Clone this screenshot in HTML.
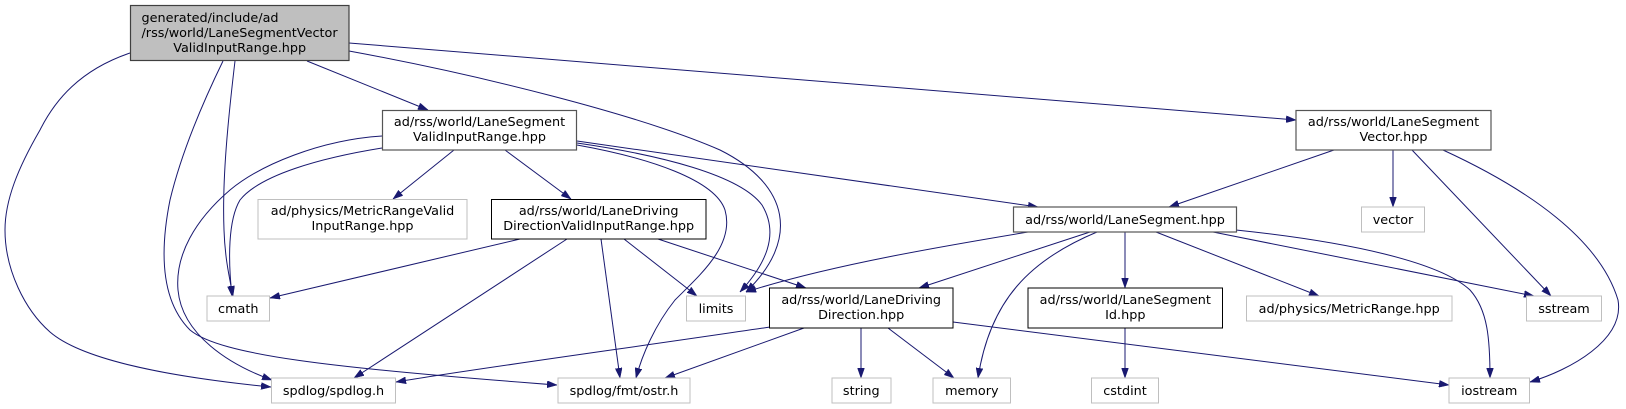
<!DOCTYPE html>
<html><head><meta charset="utf-8"><style>
html,body{margin:0;padding:0;background:#fff;}
svg{display:block;}
text{font-family:"DejaVu Sans","Liberation Sans",sans-serif;font-size:12.8px;fill:#000;}
.e{fill:none;stroke:#191970;stroke-width:1;}
.n{fill:#fff;stroke:#000;stroke-width:1;}
.g{fill:#fff;stroke:#555;stroke-width:1.2;}
.x{fill:#fff;stroke:#bfbfbf;stroke-width:1;}
</style></head><body>
<svg width="1626" height="409" viewBox="0 0 1626 409" xmlns="http://www.w3.org/2000/svg">
<defs>
<marker id="a" markerUnits="userSpaceOnUse" viewBox="0 0 10 7" markerWidth="10" markerHeight="7" refX="10" refY="3.5" orient="auto">
<path d="M0,0 L10,3.5 L0,7 z" fill="#191970" stroke="#191970" stroke-width="0.5"/>
</marker>
</defs>
<g marker-end="url(#a)">
<!-- root edges -->
<path class="e" d="M307,61 L428,110"/>
<path class="e" d="M349,43 L1296,120"/>
<path class="e" d="M130,53 C80,70 55,100 40,130 C18,168 5,200 5,230 C5,270 25,310 50,332 C80,358 160,376 271,387"/>
<path class="e" d="M223,61 C205,98 182,150 170,200 C160,250 160,300 190,330 C220,355 330,368 557,385"/>
<path class="e" d="M235,61 C228,120 222,180 224,230 C225,260 230,280 233,296"/>
<path class="e" d="M349,51 C480,75 640,115 720,150 C790,185 800,240 746,292"/>
<!-- LSVIR edges -->
<path class="e" d="M454,150 L393,199"/>
<path class="e" d="M505,150 L571,199"/>
<path class="e" d="M577,141 L1038,207"/>
<path class="e" d="M382,148 C320,158 260,175 240,200 C228,220 228,260 232,296"/>
<path class="e" d="M382,136 C320,140 260,165 230,190 C195,220 175,255 178,290 C182,335 230,365 272,380"/>
<path class="e" d="M577,143 C660,155 740,175 762,205 C780,235 765,265 740,292"/>
<path class="e" d="M577,145 C650,158 715,180 725,210 C735,245 700,275 675,300 C655,325 642,355 636,378"/>
<!-- LDDVIR edges -->
<path class="e" d="M520,239 L270,298"/>
<path class="e" d="M567,239 L354,378"/>
<path class="e" d="M601,239 L620,378"/>
<path class="e" d="M624,239 L697,296"/>
<path class="e" d="M658,239 L806,288"/>
<!-- LaneSegment edges -->
<path class="e" d="M1028,232 C950,245 830,265 746,292"/>
<path class="e" d="M1090,232 L919,288"/>
<path class="e" d="M1097,232 C1030,260 990,300 978,378"/>
<path class="e" d="M1125,232 L1125,288"/>
<path class="e" d="M1156,232 L1319,296"/>
<path class="e" d="M1213,232 L1534,296"/>
<path class="e" d="M1236,230 C1350,242 1440,262 1470,290 C1488,310 1490,340 1490,378"/>
<!-- LSId -->
<path class="e" d="M1125,328 L1125,378"/>
<!-- LDD edges -->
<path class="e" d="M861,328 L861,378"/>
<path class="e" d="M888,328 L954,378"/>
<path class="e" d="M804,328 L665,378"/>
<path class="e" d="M770,327 C650,345 480,368 396,382"/>
<path class="e" d="M953,322 L1449,385"/>
<!-- LSV edges -->
<path class="e" d="M1334,150 L1169,207"/>
<path class="e" d="M1393,150 L1393,207"/>
<path class="e" d="M1412,150 L1551,296"/>
<path class="e" d="M1443,150 C1530,190 1600,240 1618,300 C1625,340 1570,370 1530,382"/>
</g>

<!-- nodes -->
<rect x="130.5" y="5.5" width="218.5" height="55" fill="#bfbfbf" stroke="#404040" stroke-width="1.2"/>
<text x="141.5" y="22">generated/include/ad</text>
<text x="141.5" y="37">/rss/world/LaneSegmentVector</text>
<text x="239.7" y="52" text-anchor="middle">ValidInputRange.hpp</text>

<rect class="g" x="382.5" y="110.5" width="194" height="39.5"/>
<text x="479.5" y="126" text-anchor="middle">ad/rss/world/LaneSegment</text>
<text x="479.5" y="141" text-anchor="middle">ValidInputRange.hpp</text>

<rect class="g" x="1296" y="110.5" width="195" height="39.5"/>
<text x="1393.5" y="126" text-anchor="middle">ad/rss/world/LaneSegment</text>
<text x="1393.5" y="141" text-anchor="middle">Vector.hpp</text>

<rect class="x" x="258" y="199.5" width="209" height="39.5"/>
<text x="362.5" y="215" text-anchor="middle">ad/physics/MetricRangeValid</text>
<text x="362.5" y="230" text-anchor="middle">InputRange.hpp</text>

<rect class="n" x="491.5" y="199.5" width="214.5" height="39.5"/>
<text x="598.7" y="215" text-anchor="middle">ad/rss/world/LaneDriving</text>
<text x="598.7" y="230" text-anchor="middle">DirectionValidInputRange.hpp</text>

<rect class="g" x="1013.5" y="207" width="223" height="25"/>
<text x="1125" y="224" text-anchor="middle">ad/rss/world/LaneSegment.hpp</text>

<rect class="x" x="1361.5" y="207" width="63" height="25"/>
<text x="1393" y="224" text-anchor="middle">vector</text>

<rect class="x" x="207" y="296" width="62.5" height="25"/>
<text x="238.3" y="313" text-anchor="middle">cmath</text>

<rect class="x" x="686.5" y="296" width="59" height="25"/>
<text x="716" y="313" text-anchor="middle">limits</text>

<rect class="n" x="769.5" y="288" width="183.5" height="40"/>
<text x="861.2" y="304" text-anchor="middle">ad/rss/world/LaneDriving</text>
<text x="861.2" y="319" text-anchor="middle">Direction.hpp</text>

<rect class="n" x="1028" y="288" width="194.5" height="40"/>
<text x="1125.3" y="304" text-anchor="middle">ad/rss/world/LaneSegment</text>
<text x="1125.3" y="319" text-anchor="middle">Id.hpp</text>

<rect class="x" x="1246.5" y="296" width="205.5" height="25"/>
<text x="1349.2" y="313" text-anchor="middle">ad/physics/MetricRange.hpp</text>

<rect class="x" x="1526.5" y="296" width="75" height="25"/>
<text x="1564" y="313" text-anchor="middle">sstream</text>

<rect class="x" x="271.5" y="378" width="124" height="25"/>
<text x="333.5" y="395" text-anchor="middle">spdlog/spdlog.h</text>

<rect class="x" x="558" y="378" width="132" height="25"/>
<text x="624" y="395" text-anchor="middle">spdlog/fmt/ostr.h</text>

<rect class="x" x="832" y="378" width="59" height="25"/>
<text x="861.3" y="395" text-anchor="middle">string</text>

<rect class="x" x="933" y="378" width="77.5" height="25"/>
<text x="971.8" y="395" text-anchor="middle">memory</text>

<rect class="x" x="1091.5" y="378" width="67" height="25"/>
<text x="1125" y="395" text-anchor="middle">cstdint</text>

<rect class="x" x="1449" y="378" width="80.5" height="25"/>
<text x="1489.2" y="395" text-anchor="middle">iostream</text>
</svg>
</body></html>
